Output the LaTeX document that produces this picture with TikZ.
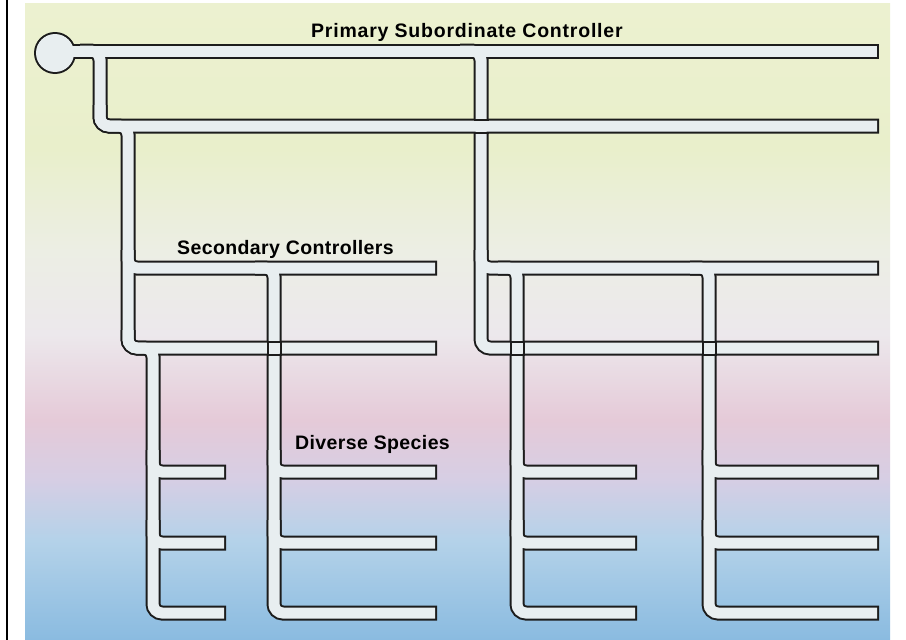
\documentclass[tikz,border=0pt]{standalone}
\usepackage{fontspec}
\setmainfont{Liberation Sans}
\newfontfamily\labelfont[LetterSpace=2]{Liberation Sans Bold}
\newfontfamily\titlefont[LetterSpace=4]{Liberation Sans Bold}
\definecolor{pipedark}{RGB}{28,28,28}
\definecolor{pipelight}{RGB}{232,238,240}
\definecolor{cB}{RGB}{138,187,224}
\definecolor{cLB}{RGB}{180,210,233}
\definecolor{cLav}{RGB}{214,206,228}
\definecolor{cPink}{RGB}{229,202,216}
\definecolor{cPaleB}{RGB}{236,232,236}
\definecolor{cPale}{RGB}{236,238,228}
\definecolor{cY}{RGB}{233,239,203}
\definecolor{cYT}{RGB}{236,241,208}
\pgfdeclareverticalshading{bgshade}{100bp}{color(0bp)=(cB); color(25bp)=(cB); color(32.8bp)=(cLB); color(37.6bp)=(cLav); color(42.3bp)=(cPink); color(49bp)=(cPaleB); color(55.6bp)=(cPale); color(63.5bp)=(cY); color(75bp)=(cYT); color(100bp)=(cYT)}
\begin{document}
\begin{tikzpicture}[x=1pt,y=-1pt,
  pipeout/.style={line width=15pt, draw=pipedark, rounded corners=9pt},
  pipein/.style={line width=11pt, draw=pipelight, rounded corners=9pt, shorten >=2pt},
  wall/.style={line width=2pt, draw=pipedark},
  lbl/.style={font=\labelfont\fontsize{19.5pt}{21pt}\selectfont, anchor=base west, inner sep=0pt, text=black}]
\useasboundingbox (0,0) rectangle (906,640);
\fill[white] (0,0) rectangle (906,640);
\shade[shading=bgshade] (25,3) rectangle (890,640);
\draw[black, line width=1.5pt] (7,0) -- (7,640);
% pipe network: dark walls first, then light interiors
\coordinate (hub) at (55,53);
\def\pipelist{{(55,51) -- (879,51)},
 {(80,51) -- (100,51) -- (100,126) -- (879,126)},
 {(100,105) -- (100,126) -- (128,126) -- (128,268) -- (437,268)},
 {(128,250) -- (128,348) -- (437,348)},
 {(128,330) -- (128,348) -- (153,348) -- (153,613) -- (226,613)},
 {(153,450) -- (153,472) -- (226,472)},
 {(153,520) -- (153,543) -- (226,543)},
 {(255,268) -- (274,268) -- (274,613) -- (437,613)},
 {(274,450) -- (274,472) -- (437,472)},
 {(274,520) -- (274,543) -- (437,543)},
 {(460,51) -- (481,51) -- (481,348) -- (879,348)},
 {(481,250) -- (481,268) -- (879,268)},
 {(498,268) -- (517,268) -- (517,613) -- (637,613)},
 {(517,450) -- (517,472) -- (637,472)},
 {(517,520) -- (517,543) -- (637,543)},
 {(690,268) -- (709,268) -- (709,613) -- (879,613)},
 {(709,450) -- (709,472) -- (879,472)},
 {(709,520) -- (709,543) -- (879,543)}}
\fill[pipedark] (hub) circle (21);
\foreach \p in \pipelist { \draw[pipeout] \p; }
\fill[pipelight] (hub) circle (19);
\foreach \p in \pipelist { \draw[pipein] \p; }
% crossings
\draw[wall] (473.5,119.5) -- (488.5,119.5) (473.5,132.5) -- (488.5,132.5);
\foreach \cx in {274,517,709} {
  \draw[wall] (\cx-7.5,341.5) -- (\cx+7.5,341.5) (\cx-7.5,354.5) -- (\cx+7.5,354.5);
  \draw[wall] (\cx-6.5,340.5) -- (\cx-6.5,355.5) (\cx+6.5,340.5) -- (\cx+6.5,355.5);
}
% labels
\node[lbl, font=\titlefont\fontsize{19.5pt}{21pt}\selectfont] (t1) at (311,37) {Primary Subordinate Controller};
\node[lbl] (t2) at (177,254) {Secondary Controllers};
\node[lbl] (t3) at (295,449) {Diverse Species};
\end{tikzpicture}
\end{document}
